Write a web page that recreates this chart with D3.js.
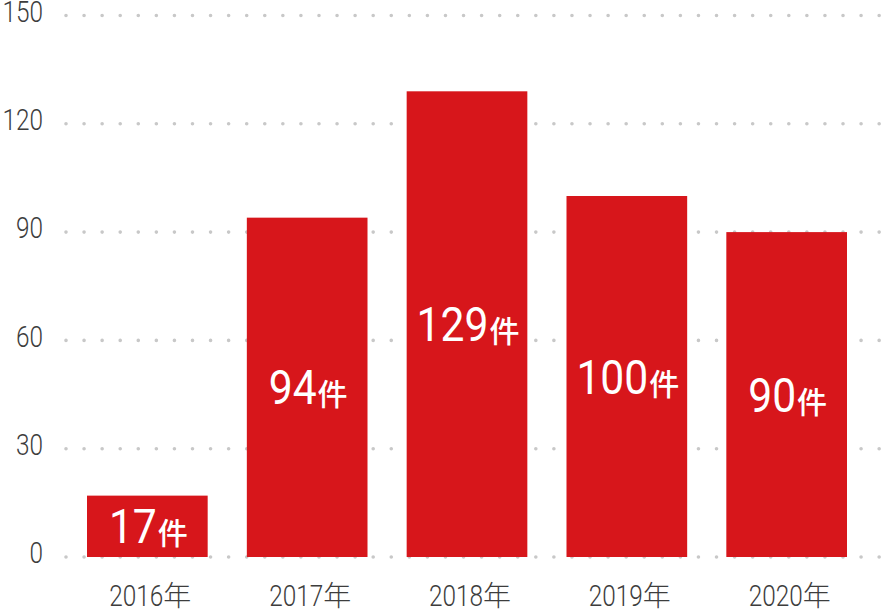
<!DOCTYPE html>
<html><head><meta charset="utf-8">
<script src="https://cdn.jsdelivr.net/npm/d3@7"></script>
<style>
html,body{margin:0;padding:0;background:#fff;}
svg{display:block;}
</style></head>
<body>
<svg id="chart" width="882" height="609"></svg>
<script>
const years = ["2016", "2017", "2018", "2019", "2020"];
const counts = [17, 94, 129, 100, 90];
const yTicks = [0, 30, 60, 90, 120, 150];
const yearSuffix = "年";
const countSuffix = "件";

const svg = d3.select("#chart");
const W = 882, H = 609;
const x = d3.scaleBand().domain(years).range([87, 847]).paddingInner(0.245).paddingOuter(0);
const y = d3.scaleLinear().domain([0, 150]).range([557, 15.5]);

const textColor = "#3d3d3d";
const barColor = "#d7161b";

// dotted grid
svg.append("g").selectAll("line").data(yTicks).join("line")
  .attr("x1", 66).attr("x2", W)
  .attr("y1", d => y(d)).attr("y2", d => y(d))
  .attr("stroke", "#c8c8c8").attr("stroke-width", 3.6)
  .attr("stroke-linecap", "round").attr("stroke-dasharray", "0 18.07");

// y axis
const yAxis = svg.append("g").attr("transform", "translate(43,0)")
  .call(d3.axisLeft(y).tickValues(yTicks).tickSize(0).tickPadding(0));
yAxis.select(".domain").remove();
yAxis.selectAll("text")
  .attr("font-family", "Roboto, sans-serif").attr("font-weight", 300)
  .attr("font-size", 29).attr("fill", textColor)
  .attr("dy", null).attr("dominant-baseline", "central")
  .attr("transform", "translate(0,-4) scale(0.84,1)");

// bars
svg.append("g").selectAll("rect").data(counts).join("rect")
  .attr("x", (d, i) => x(years[i]))
  .attr("y", d => y(d))
  .attr("width", x.bandwidth())
  .attr("height", d => y(0) - y(d))
  .attr("fill", barColor);

// composite label: condensed number + unscaled suffix, centered at cx
function compLabel(parent, cx, baseline, num, suffix, o) {
  const g = parent.append("g");
  const t1 = g.append("text").text(num)
    .attr("font-family", "Roboto, sans-serif").attr("font-weight", o.numWeight)
    .attr("font-size", o.numSize).attr("fill", o.color)
    .attr("transform", `scale(${o.sx},1)`);
  const w1 = t1.node().getComputedTextLength() * o.sx;
  const t2 = g.append("text").text(suffix)
    .attr("font-family", "'Noto Sans CJK JP', sans-serif").attr("font-weight", o.sufWeight)
    .attr("font-size", o.sufSize).attr("fill", o.color)
    .attr("x", w1 + o.gap).attr("y", o.sufDy || 0);
  const w2 = t2.node().getComputedTextLength();
  const total = w1 + o.gap + w2;
  g.attr("transform", `translate(${cx - total / 2},${baseline})`);
}

const barLab = svg.append("g");
counts.forEach((d, i) => {
  const cx = x(years[i]) + x.bandwidth() / 2 + 1;
  const cy = (y(d) + y(0)) / 2 + 17;
  compLabel(barLab, cx, cy, String(d), countSuffix,
    {numWeight: 400, numSize: 49, sx: 0.87, sufWeight: 500, sufSize: 30, gap: 1, color: "#fff", sufDy: 1});
});

const xLab = svg.append("g");
years.forEach(yr => {
  const cx = x(yr) + x.bandwidth() / 2 + 3;
  compLabel(xLab, cx, 606, yr, yearSuffix,
    {numWeight: 300, numSize: 29, sx: 0.84, sufWeight: 300, sufSize: 28, gap: 0, color: textColor});
});
</script>
</body></html>
